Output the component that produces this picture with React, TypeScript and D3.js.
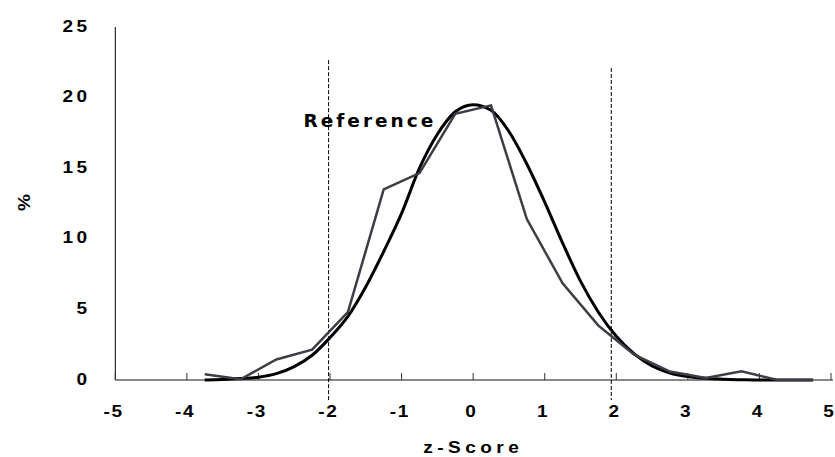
import React from "react";
import * as d3 from "d3";

// Observed distribution: z-score bin centres and share of cases (%)
const obsZ = [-3.75, -3.25, -2.75, -2.25, -1.75, -1.25, -0.75, -0.25, 0.25, 0.75, 1.25, 1.75, 2.25, 2.75, 3.25, 3.75, 4.25, 4.75];
const obsPct = [0.4, 0.05, 1.45, 2.15, 4.8, 13.5, 14.65, 18.85, 19.45, 11.4, 6.85, 3.85, 1.8, 0.6, 0.15, 0.62, 0, 0];

// Reference (normal) curve
const refZ = [-3.75, -3.5, -3.25, -3.0, -2.75, -2.5, -2.25, -2.0, -1.75, -1.5, -1.25, -1.0, -0.75, -0.5, -0.25, 0, 0.25, 0.5, 0.75, 1.0, 1.25, 1.5, 1.75, 2.0, 2.25, 2.5, 2.75, 3.0, 3.25, 3.5, 3.75, 4.0, 4.25, 4.75];
const refPct = [0, 0.03, 0.1, 0.2, 0.45, 0.95, 1.75, 3.0, 4.5, 6.6, 9.1, 11.8, 15.0, 17.4, 19.0, 19.5, 19.1, 17.6, 15.3, 12.6, 9.7, 7.0, 4.8, 3.1, 1.85, 1.0, 0.5, 0.25, 0.12, 0.05, 0.02, 0, 0, 0];

// Cut-off markers (z) with their vertical extent (%)
const cutZ = [-2.02, 1.93];
const cutTop = [22.65, 22.1];
const cutBottom = -1.42;

const xTicks = [-5, -4, -3, -2, -1, 0, 1, 2, 3, 4, 5];
const yTicks = [0, 5, 10, 15, 20, 25];

const W = 835;
const H = 457;
const SX = 1.12; // horizontal stretch of the label type

export default function App() {
  const x = d3.scaleLinear().domain([-5, 5]).range([115.3, 831]);
  const y = d3.scaleLinear().domain([0, 25]).range([380, 27]);

  const refLine = d3
    .line<number>()
    .x((_, i) => x(refZ[i]))
    .y((d) => y(d))
    .curve(d3.curveMonotoneX);
  const obsLine = d3
    .line<number>()
    .x((_, i) => x(obsZ[i]))
    .y((d) => y(d));

  const tickFont = {
    fontFamily: "'Liberation Sans', Arial, sans-serif",
    fontWeight: 700,
    fontSize: 17,
    fill: "#000",
  } as const;

  return (
    <svg
      width={W}
      height={H}
      style={{ position: "absolute", left: 0, top: 0, background: "#fff" }}
    >
      {/* y axis */}
      <line x1={x(-5)} x2={x(-5)} y1={y(25)} y2={y(0)} stroke="#000" strokeWidth={1} />
      {/* x axis */}
      <line x1={x(-5)} x2={x(5) + 2} y1={y(0)} y2={y(0)} stroke="#888" strokeWidth={2} />
      {xTicks.map((t) => (
        <line key={"xt" + t} x1={x(t)} x2={x(t)} y1={y(0)} y2={y(0) - 7} stroke="#333" strokeWidth={1} />
      ))}

      {/* cut-off lines */}
      {cutZ.map((z, i) => (
        <line
          key={"cut" + i}
          x1={x(z)}
          x2={x(z)}
          y1={y(cutTop[i])}
          y2={y(cutBottom)}
          stroke="#000"
          strokeWidth={1}
          strokeDasharray="4,2"
        />
      ))}

      {/* reference curve */}
      <path d={refLine(refPct) || ""} fill="none" stroke="#000" strokeWidth={3} strokeLinejoin="round" />
      {/* observed distribution */}
      <path d={obsLine(obsPct) || ""} fill="none" stroke="#3d3d45" strokeWidth={2.5} strokeLinejoin="miter" />

      {/* y tick labels */}
      {yTicks.map((t) => (
        <text
          key={"yl" + t}
          transform={`translate(${87 + 3 * SX},${y(t) + 4.5}) scale(${SX},1)`}
          textAnchor="end"
          letterSpacing={3}
          {...tickFont}
        >
          {t}
        </text>
      ))}
      {/* x tick labels */}
      {xTicks.map((t) => (
        <text
          key={"xl" + t}
          transform={`translate(${x(t) - 2.5 + 0.75 * SX},417) scale(${SX},1)`}
          textAnchor="middle"
          letterSpacing={1.5}
          {...tickFont}
        >
          {t < 0 ? "-" + Math.abs(t) : String(t)}
        </text>
      ))}

      {/* axis titles */}
      <text
        transform={`translate(${471 + 2 * SX},453) scale(${SX},1)`}
        textAnchor="middle"
        letterSpacing={4}
        {...tickFont}
      >
        z-Score
      </text>
      <text transform={`translate(29.5,202.5) rotate(-90) scale(${SX},1)`} textAnchor="middle" {...tickFont}>
        %
      </text>

      {/* curve label */}
      <text
        x={303.5}
        y={127}
        fontFamily="'DejaVu Sans', Verdana, sans-serif"
        fontWeight={700}
        fontSize={18.5}
        letterSpacing={3}
        fill="#000"
      >
        Reference
      </text>
    </svg>
  );
}
